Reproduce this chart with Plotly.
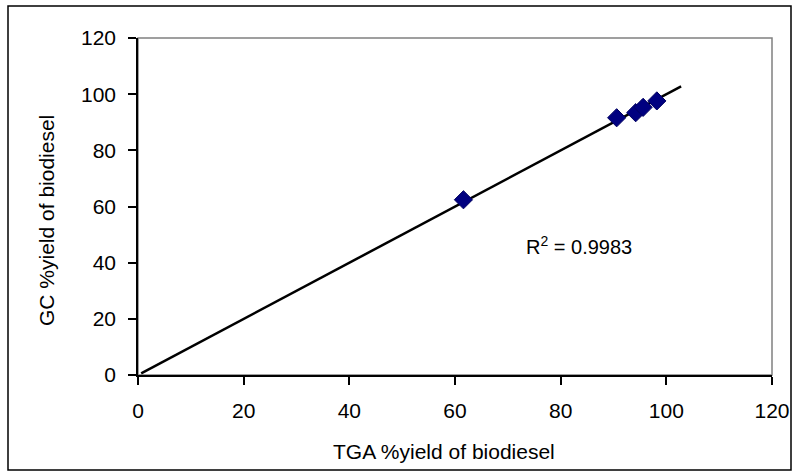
import numpy as np
import plotly.graph_objects as go

# TGA vs GC biodiesel yield (%)
tga_yield = [61.6, 90.6, 94.2, 95.6, 98.2]
gc_yield = [62.4, 91.6, 93.4, 95.3, 97.6]
r_squared = 0.9983
trend_x_range = [0.6, 102.8]

x_ticks = [0, 20, 40, 60, 80, 100, 120]
y_ticks = [0, 20, 40, 60, 80, 100, 120]

# linear trendline through the origin (least squares)
xs = np.array(tga_yield)
ys = np.array(gc_yield)
slope = float(np.sum(xs * ys) / np.sum(xs * xs))
trend_x = np.array(trend_x_range)
trend_y = slope * trend_x

W, H = 793, 472
ml, mr, mt, mb = 138, 21, 38, 97
pw, ph = W - ml - mr, H - mt - mb

def px(x):
    return (x - ml) / pw

def py(y):
    return (H - mb - y) / ph

font = "Arial, 'Liberation Sans', sans-serif"

fig = go.Figure()
fig.add_trace(go.Scatter(
    x=trend_x, y=trend_y, mode="lines",
    line=dict(color="black", width=2.5), hoverinfo="skip", showlegend=False,
))
fig.add_trace(go.Scatter(
    x=tga_yield, y=gc_yield, mode="markers",
    marker=dict(symbol="diamond", size=14, color="#000080",
                line=dict(color="#000060", width=1)),
    showlegend=False,
))

axis_common = dict(
    showgrid=False, zeroline=False, showline=True, linecolor="black", linewidth=1.5,
    ticks="outside", ticklen=8, tickwidth=1.5, tickcolor="black",
    tickfont=dict(family=font, size=21, color="black"),
    automargin=False,
)
fig.update_xaxes(range=[0, 120], tickvals=x_ticks, ticklabelstandoff=8, **axis_common)
fig.update_yaxes(range=[0, 120], tickvals=y_ticks, ticklabelstandoff=8, **axis_common)

# plot-area frame
fig.add_shape(type="rect", xref="paper", yref="paper", x0=0, y0=0, x1=1, y1=1,
              line=dict(color="#808080", width=1.5), layer="below")
# chart outer border
fig.add_shape(type="rect", xref="paper", yref="paper",
              x0=px(8), x1=px(791), y0=py(470), y1=py(6),
              line=dict(color="black", width=1.5), layer="below")

fig.add_annotation(xref="paper", yref="paper", x=px(444), y=py(451),
                   xanchor="center", yanchor="middle",
                   text="TGA %yield of biodiesel", showarrow=False,
                   font=dict(family=font, size=21, color="black"))
fig.add_annotation(xref="paper", yref="paper", x=px(46), y=py(220),
                   xanchor="center", yanchor="middle",
                   text="GC %yield of biodiesel", showarrow=False, textangle=-90,
                   font=dict(family=font, size=21, color="black"))
fig.add_annotation(xref="paper", yref="paper", x=px(524), y=py(245),
                   xanchor="left", yanchor="middle",
                   text=f"R<sup>2</sup> = {r_squared:.4f}", showarrow=False,
                   font=dict(family=font, size=20, color="black"))

fig.update_layout(
    width=W, height=H,
    margin=dict(l=ml, r=mr, t=mt, b=mb),
    paper_bgcolor="white", plot_bgcolor="white",
)

fig.write_html("out.html")
